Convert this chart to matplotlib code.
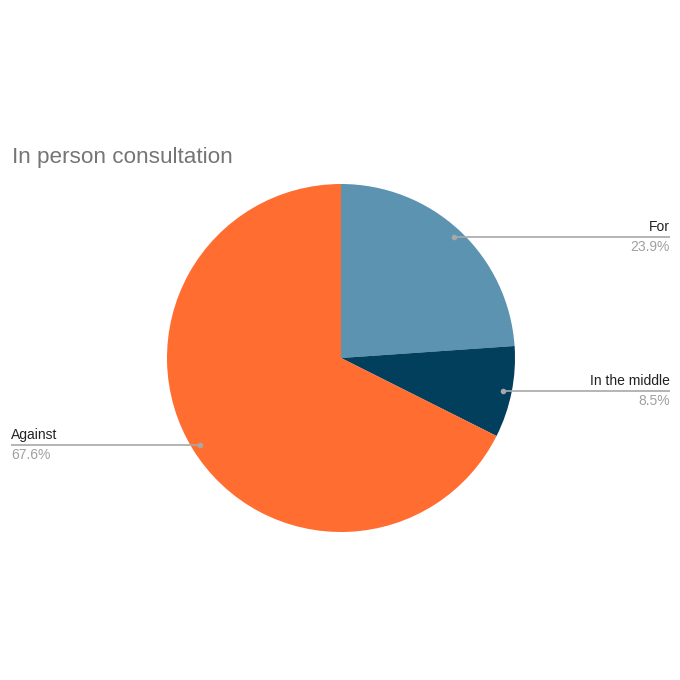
import numpy as np
import matplotlib.pyplot as plt

plt.rcParams['font.family'] = ['Liberation Sans', 'DejaVu Sans']

title = "In person consultation"
labels = ["For", "In the middle", "Against"]
values = [23.9, 8.5, 67.6]
colors = ["#5b93b0", "#023f5d", "#ff6d31"]

W = H = 680
fig = plt.figure(figsize=(6.8, 6.8), dpi=100)
ax = fig.add_axes([0, 0, 1, 1])

cx, cy, r = 341, H - 358, 174
wedges, _ = ax.pie(values, colors=colors, startangle=90, counterclock=False,
                   center=(cx, cy), radius=r, frame=True,
                   wedgeprops=dict(linewidth=0))
ax.set_xlim(0, W)
ax.set_ylim(0, H)
ax.set_aspect('equal')
ax.axis('off')

fig.text(12 / W, 1 - 158 / H, title, fontsize=16.2, color='#757575', va='center', ha='left')

total = sum(values)
for w, lab, v in zip(wedges, labels, values):
    mid = np.deg2rad((w.theta1 + w.theta2) / 2)
    px = cx + 0.95 * r * np.cos(mid)
    py = cy + 0.95 * r * np.sin(mid)
    if px > cx:
        x_end, ha = 670, 'right'
    else:
        x_end, ha = 11, 'left'
    ax.plot([px, x_end], [py, py], color='#a8a8a8', lw=1.2, solid_capstyle='butt')
    ax.plot(px, py, 'o', color='#a8a8a8', ms=3)
    ax.text(x_end, py + 3, lab, ha=ha, va='bottom', fontsize=10, color='#222222')
    ax.text(x_end, py - 3, f"{v / total * 100:.1f}%", ha=ha, va='top', fontsize=10, color='#a0a0a0')

fig.savefig('out.png', dpi=100, facecolor='white')
